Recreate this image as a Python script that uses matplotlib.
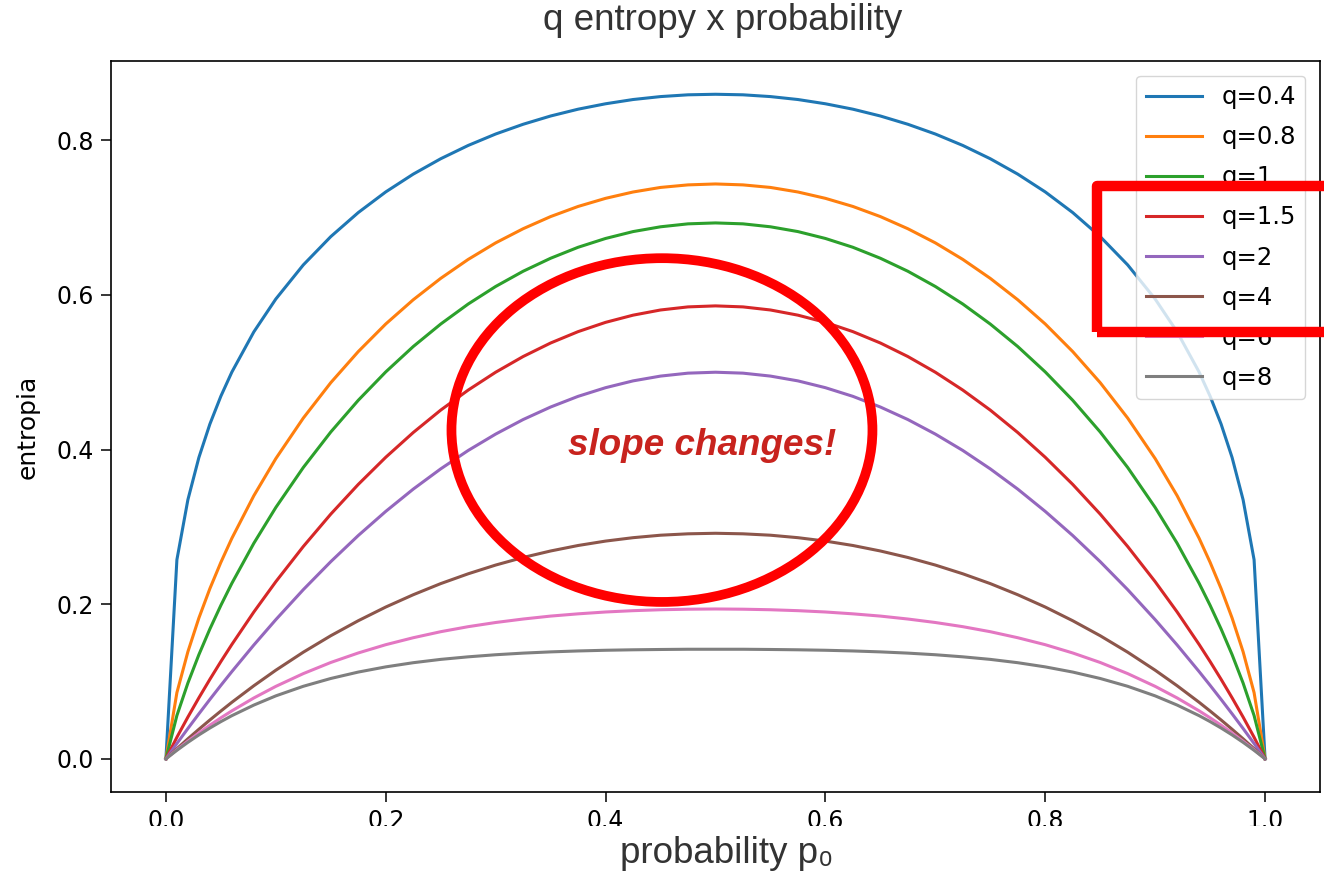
import matplotlib
matplotlib.use("Agg")
import matplotlib.pyplot as plt
from matplotlib.patches import Ellipse, Rectangle

# probabilidade p0
p0 = [0, 0.01, 0.02, 0.03, 0.04, 0.05, 0.06, 0.08, 0.1, 0.125, 0.15, 0.175, 0.2, 0.225, 0.25, 0.275,
      0.3, 0.325, 0.35, 0.375, 0.4, 0.425, 0.45, 0.475, 0.5, 0.525, 0.55, 0.575, 0.6, 0.625, 0.65,
      0.675, 0.7, 0.725, 0.75, 0.775, 0.8, 0.825, 0.85, 0.875, 0.9, 0.92, 0.94, 0.95, 0.96, 0.97,
      0.98, 0.99, 1.0]

# entropia para cada q
s_q04 = [0, .2575, .3351, .3897, .4329, .4690, .5002, .5522, .5947, .6388, .6754, .7065, .7332, .7562,
         .7761, .7933, .8081, .8207, .8314, .8402, .8472, .8527, .8565, .8588, .8595, .8588, .8565, .8527,
         .8472, .8402, .8314, .8207, .8081, .7933, .7761, .7562, .7332, .7065, .6754, .6388, .5947, .5522,
         .5002, .4690, .4329, .3897, .3351, .2575, 0]
s_q08 = [0, .0856, .1385, .1821, .2201, .2541, .2852, .3403, .3883, .4407, .4865, .5267, .5624, .5937,
         .6214, .6459, .6673, .6856, .7013, .7144, .7249, .7331, .7390, .7423, .7435, .7423, .7390, .7331,
         .7249, .7144, .7013, .6856, .6673, .6459, .6214, .5937, .5624, .5267, .4865, .4407, .3883, .3403,
         .2852, .2541, .2201, .1821, .1385, .0856, 0]
s_q1 = [0, .0560, .0980, .1347, .1679, .1985, .2270, .2788, .3251, .3768, .4227, .4637, .5004, .5332,
        .5623, .5882, .6109, .6306, .6474, .6616, .6730, .6819, .6881, .6919, .6931, .6919, .6881, .6819,
        .6730, .6616, .6474, .6306, .6109, .5882, .5623, .5332, .5004, .4637, .4227, .3768, .3251, .2788,
        .2270, .1985, .1679, .1347, .0980, .0560, 0]
s_q15 = [0, .0279, .0540, .0789, .1028, .1258, .1479, .1899, .2291, .2746, .3165, .3549, .3900, .4220,
         .4510, .4769, .5000, .5203, .5378, .5525, .5645, .5738, .5805, .5845, .5858, .5845, .5805, .5738,
         .5645, .5525, .5378, .5203, .5000, .4769, .4510, .4220, .3900, .3549, .3165, .2746, .2291, .1899,
         .1479, .1258, .1028, .0789, .0540, .0279, 0]
s_q2 = [0, .0198, .0392, .0582, .0768, .0950, .1128, .1472, .1800, .2188, .2550, .2888, .3200, .3488,
        .3750, .3988, .4200, .4388, .4550, .4688, .4800, .4888, .4950, .4988, .5000, .4988, .4950, .4888,
        .4800, .4688, .4550, .4388, .4200, .3988, .3750, .3488, .3200, .2888, .2550, .2188, .1800, .1472,
        .1128, .0950, .0768, .0582, .0392, .0198, 0]
s_q4 = [0, .0131, .0259, .0382, .0502, .0618, .0731, .0945, .1146, .1379, .1592, .1786, .1963, .2122,
        .2266, .2393, .2506, .2604, .2688, .2759, .2816, .2860, .2892, .2910, .2917, .2910, .2892, .2860,
        .2816, .2759, .2688, .2604, .2506, .2393, .2266, .2122, .1963, .1786, .1592, .1379, .1146, .0945,
        .0731, .0618, .0502, .0382, .0259, .0131, 0]
s_q6 = [0, .0117, .0228, .0334, .0435, .0530, .0620, .0787, .0937, .1102, .1246, .1369, .1476, .1566,
        .1644, .1709, .1763, .1808, .1846, .1875, .1899, .1916, .1928, .1935, .1938, .1935, .1928, .1916,
        .1899, .1875, .1846, .1808, .1763, .1709, .1644, .1566, .1476, .1369, .1246, .1102, .0937, .0787,
        .0620, .0530, .0435, .0334, .0228, .0117, 0]
s_q8 = [0, .0110, .0213, .0309, .0398, .0481, .0558, .0695, .0814, .0938, .1039, .1122, .1189, .1243,
        .1286, .1319, .1346, .1367, .1383, .1395, .1404, .1410, .1414, .1417, .1417, .1417, .1414, .1410,
        .1404, .1395, .1383, .1367, .1346, .1319, .1286, .1243, .1189, .1122, .1039, .0938, .0814, .0695,
        .0558, .0481, .0398, .0309, .0213, .0110, 0]

q_labels = ['q=0.4', 'q=0.8', 'q=1', 'q=1.5', 'q=2', 'q=4', 'q=6', 'q=8']
series = [s_q04, s_q08, s_q1, s_q15, s_q2, s_q4, s_q6, s_q8]

fig = plt.figure(figsize=(13.24, 8.72), dpi=100)
ax = fig.add_axes([0.0838, 0.0917, 0.9132, 0.8383])

for s, lab in zip(series, q_labels):
    ax.plot(p0, s, linewidth=2.2, label=lab)

ax.set_yticks([0.0, 0.2, 0.4, 0.6, 0.8])
ax.set_xticks([0.0, 0.2, 0.4, 0.6, 0.8, 1.0])
ax.tick_params(labelsize=17, length=7, width=1.1, pad=5)
for sp in ax.spines.values():
    sp.set_linewidth(1.2)
ax.set_ylabel('entropia', fontsize=18, labelpad=12)

ax.legend(loc='upper right', fontsize=17.5, handlelength=2.3, handletextpad=0.8, labelspacing=0.66,
          borderaxespad=0.6)

# anotações em vermelho
ax.add_patch(Ellipse((0.4513, 0.4252), 0.383, 0.4446, fill=False, edgecolor='#ff0000', linewidth=7, zorder=5))
ax.text(0.488, 0.405, 'slope changes!', color='#c8231e', fontsize=26.5, fontweight='bold', fontstyle='italic',
        family=['Liberation Sans', 'DejaVu Sans'], ha='center', va='center', zorder=6)
fig.add_artist(Rectangle((1097 / 1324, 1 - 332 / 872), 240 / 1324, 146 / 872, transform=fig.transFigure,
                         fill=False, edgecolor='#ff0000', linewidth=7.5, joinstyle='round', clip_on=False, zorder=10))

# faixa branca sobre os rótulos do eixo x
fig.add_artist(Rectangle((0, 0), 1, 46 / 872, transform=fig.transFigure, facecolor='white',
                         edgecolor='none', zorder=8))

fig.text(723 / 1324, 1 - 20 / 872, 'q entropy x probability', ha='center', va='center', fontsize=26.5,
         color='#333333', family=['Liberation Sans', 'DejaVu Sans'])
fig.text(727 / 1324, 1 - 853 / 872, 'probability p₀', ha='center', va='center', fontsize=26.5,
         color='#333333', family=['Liberation Sans', 'DejaVu Sans'], zorder=9)

fig.savefig('out.png', dpi=100)
